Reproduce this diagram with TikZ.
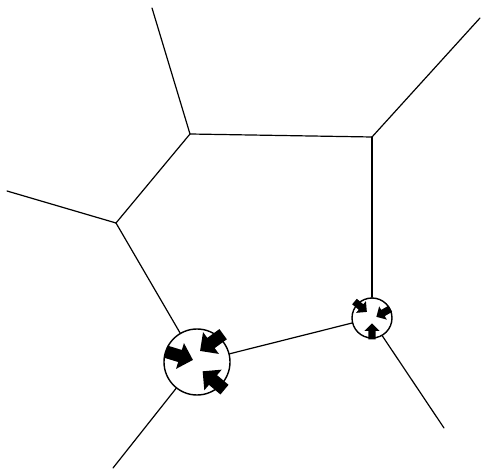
\documentclass[tikz,border=0pt]{standalone}
\begin{document}
\begin{tikzpicture}[x=1pt,y=-1pt,
  edge/.style={line width=1.2pt,line cap=round},
  ring/.style={circle,draw,line width=1.4pt,inner sep=0pt},
  fatarrow/.pic={\fill (-1,-0.42) -- (0,-0.42) -- (0,-0.9) -- (0.9,0) -- (0,0.9) -- (0,0.42) -- (-1,0.42) -- cycle;}]
\useasboundingbox (0,0) rectangle (485,470);
% junction points
\coordinate (a) at (190,134);
\coordinate (b) at (372,137);
\coordinate (c) at (116,223);
% free ends
\coordinate (e1) at (152,8);
\coordinate (e2) at (480,18);
\coordinate (e3) at (7,191);
\coordinate (e4) at (113,468);
\coordinate (e5) at (444,428);
% circles
\node[ring,minimum size=66pt] (L) at (197,362) {};
\node[ring,minimum size=40pt] (S) at (372,318) {};
% edges
\draw[edge] (e1) -- (a);
\draw[edge] (a) -- (b);
\draw[edge] (b) -- (e2);
\draw[edge] (a) -- (c);
\draw[edge] (c) -- (e3);
\draw[edge] (c) -- (L);
\draw[edge] (b) -- (S);
\draw[edge] (L) -- (S);
\draw[edge] (L) -- (e4);
\draw[edge] (S.-60) -- (e5);
% arrows in large circle
\pic[scale=15,rotate=-144] at (211,343) {fatarrow};
\pic[scale=15,rotate=-17] at (180,356) {fatarrow};
\pic[scale=15,rotate=140] at (213,380) {fatarrow};
% arrows in small circle
\pic[scale=8.5,rotate=-40] at (361,307) {fatarrow};
\pic[scale=8.5,rotate=-150] at (383,313) {fatarrow};
\pic[scale=8.5,rotate=90] at (372,331) {fatarrow};
\end{tikzpicture}
\end{document}
